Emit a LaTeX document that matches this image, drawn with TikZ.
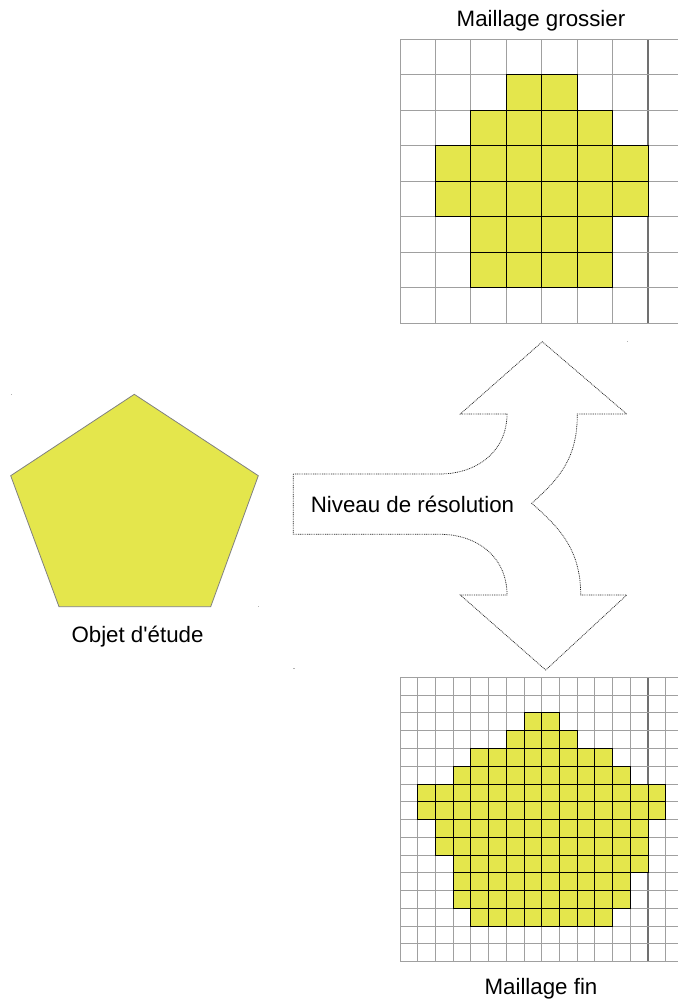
\documentclass[tikz,border=0pt]{standalone}
\usepackage{fontspec}
\setmainfont{Liberation Sans}[Ligatures=TeXOff]
\definecolor{cellyellow}{HTML}{E4E64C}
\definecolor{gridgray}{HTML}{A0A0A0}
\definecolor{griddark}{HTML}{707070}
\definecolor{penedge}{HTML}{808080}
\begin{document}
\begin{tikzpicture}[x=1pt,y=-1pt,
  gridline/.style={draw=gridgray,line width=0.9pt},
  gridmark/.style={draw=griddark,line width=1.3pt},
  cellbox/.style={fill=cellyellow,draw=black,line width=0.9pt},
  txt/.style={font=\fontsize{22.3}{26}\selectfont,inner sep=0pt,anchor=base},
  flow/.style={draw=black!85,line width=0.75pt,dash pattern=on 0.9pt off 0.9pt},
  speck/.style={fill=gray!60}]
\useasboundingbox (0,0) rectangle (678,1000);

% ---------- coarse mesh ----------
\foreach \i in {0,...,6}
  \draw[gridline] ({400+35.43*\i},39.3) -- ({400+35.43*\i},323.3);
\draw[gridmark] (648,39.3) -- (648,323.3);
\foreach \j in {0,...,8}
  \draw[gridline] (400,{39.3+35.5*\j}) -- (678,{39.3+35.5*\j});
\foreach \r/\a/\b in {1/3/4,2/2/5,3/1/6,4/1/6,5/2/5,6/2/5}
  \foreach \c in {\a,...,\b}
    \draw[cellbox] ({400+35.43*\c},{39.3+35.5*\r}) rectangle ++(35.43,35.5);
\node[txt] (coarse) at (541,26.5) {Maillage grossier};

% ---------- fine mesh ----------
\foreach \i in {0,...,13,15}
  \draw[gridline] ({400+17.715*\i},677.3) -- ({400+17.715*\i},961.7);
\draw[gridmark] (648,677.3) -- (648,961.7);
\foreach \j in {0,...,16}
  \draw[gridline] (400,{677.3+17.775*\j}) -- (678,{677.3+17.775*\j});
\foreach \r/\a/\b in {2/7/8,3/6/9,4/4/11,5/3/12,6/1/14,7/1/14,8/2/13,9/2/13,10/3/13,11/3/12,12/3/12,13/4/11}
  \foreach \c in {\a,...,\b}
    \draw[cellbox] ({400+17.715*\c},{677.3+17.775*\r}) rectangle ++(17.715,17.775);
\node[txt] (fine) at (541,994) {Maillage fin};

% ---------- object ----------
\draw[fill=cellyellow,draw=penedge,line width=0.8pt]
  (134.3,394.3) -- (258.3,475.7) -- (210.7,606.7) -- (59,606.7) -- (10.7,475.7) -- cycle;
\node[txt] (objet) at (137.5,642) {Objet d'\'etude};

% ---------- resolution arrow ----------
\draw[flow]
  (293.3,474) -- (440,474)
  .. controls (476,474) and (507,452) .. (507,414)
  -- (460.3,414) -- (542.3,341.7) -- (626.7,414) -- (577.3,414)
  .. controls (577.3,458) and (560,478) .. (531.7,503.3)
  .. controls (560,528) and (580.7,550) .. (580.7,595)
  -- (626.7,595) -- (545.7,670) -- (460.3,595) -- (507,595)
  .. controls (507,556) and (476,534.3) .. (440,534.3)
  -- (293.3,534.3) -- cycle;
\node[txt] (niveau) at (412.5,512) {Niveau de r\'esolution};

% ---------- stray marks ----------
\fill[speck] (626.8,340.8) rectangle ++(1.4,1.4);
\fill[speck] (293.3,667.8) rectangle ++(1.4,1.4);
\fill[speck] (10.8,393.6) rectangle ++(1.2,1.2);
\fill[speck] (257.8,606) rectangle ++(1.2,1.2);
\end{tikzpicture}
\end{document}
